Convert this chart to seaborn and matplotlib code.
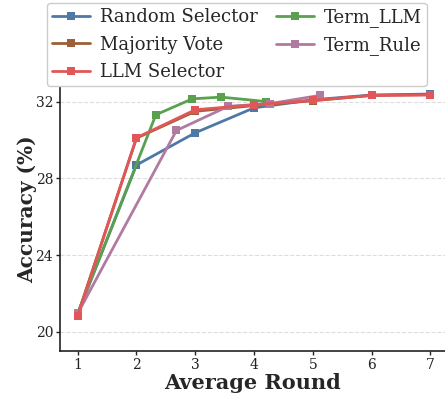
import matplotlib
matplotlib.use("Agg")
import matplotlib.pyplot as plt
import seaborn as sns
import pandas as pd

sns.set_theme(style="ticks")
plt.rcParams["font.family"] = ["DejaVu Serif"]

# Accuracy per average number of rounds for each selection strategy
rounds_fixed = [1, 2, 3, 4, 5, 6, 7]
random_selector = [20.95, 28.7, 30.38, 31.68, 32.1, 32.35, 32.4]
majority_vote = [20.9, 30.1, 31.5, 31.8, 32.05, 32.33, 32.37]
llm_selector = [20.83, 30.12, 31.58, 31.84, 32.07, 32.33, 32.35]

term_llm_rounds = [1, 2.33, 2.95, 3.44, 4.2]
term_llm = [20.95, 31.32, 32.15, 32.24, 32.01]

term_rule_rounds = [1, 2.68, 3.56, 4.27, 5.12]
term_rule = [20.96, 30.5, 31.76, 31.9, 32.33]

series_names = ["Random Selector", "Majority Vote", "LLM Selector", "Term_LLM", "Term_Rule"]
colors = ["#4e79a7", "#9c5f3a", "#e15759", "#59a14f", "#b07aa1"]

frames = []
for name, xs, ys in [
    ("Random Selector", rounds_fixed, random_selector),
    ("Majority Vote", rounds_fixed, majority_vote),
    ("LLM Selector", rounds_fixed, llm_selector),
    ("Term_LLM", term_llm_rounds, term_llm),
    ("Term_Rule", term_rule_rounds, term_rule),
]:
    frames.append(pd.DataFrame({"round": xs, "acc": ys, "method": name}))
df = pd.concat(frames, ignore_index=True)

fig = plt.figure(figsize=(4.45, 3.94), dpi=100)
ax = fig.add_axes([0.135, 0.109, 0.865, 0.718])

draw_order = ["Random Selector", "Majority Vote", "Term_LLM", "Term_Rule", "LLM Selector"]
palette = dict(zip(series_names, colors))
for name in draw_order:
    sub = df[df["method"] == name]
    sns.lineplot(data=sub, x="round", y="acc", ax=ax, color=palette[name],
                 marker="s", markersize=6, linewidth=2, markeredgewidth=0,
                 label=name, sort=False)

ax.set_xlim(0.7, 7.25)
ax.set_ylim(19, 33.75)
ax.set_xticks(rounds_fixed)
ax.set_yticks([20, 24, 28, 32])
ax.tick_params(labelsize=10, length=3, width=1, pad=2, colors="#222222")
ax.yaxis.grid(True, linestyle="--", color="#dddddd", linewidth=0.8)
ax.xaxis.grid(False)
for s in ["top", "right"]:
    ax.spines[s].set_visible(False)
for s in ["left", "bottom"]:
    ax.spines[s].set_color("#222222")
    ax.spines[s].set_linewidth(1.2)

ax.set_xlabel("Average Round", fontsize=15, fontweight="bold", labelpad=1)
ax.set_ylabel("Accuracy (%)", fontsize=14.5, fontweight="bold", labelpad=-1)

h, l = ax.get_legend_handles_labels()
lut = dict(zip(l, h))
ax.legend([lut[n] for n in series_names], series_names, ncol=2,
          loc="upper center", bbox_to_anchor=(0.532, 0.993), bbox_transform=fig.transFigure,
          fontsize=13, frameon=True, framealpha=1, edgecolor="#cccccc",
          handlelength=2.1, columnspacing=1.0, handletextpad=0.55,
          borderpad=0.3, borderaxespad=0, labelspacing=0.52, fancybox=True)

fig.savefig("out.png", dpi=100)
